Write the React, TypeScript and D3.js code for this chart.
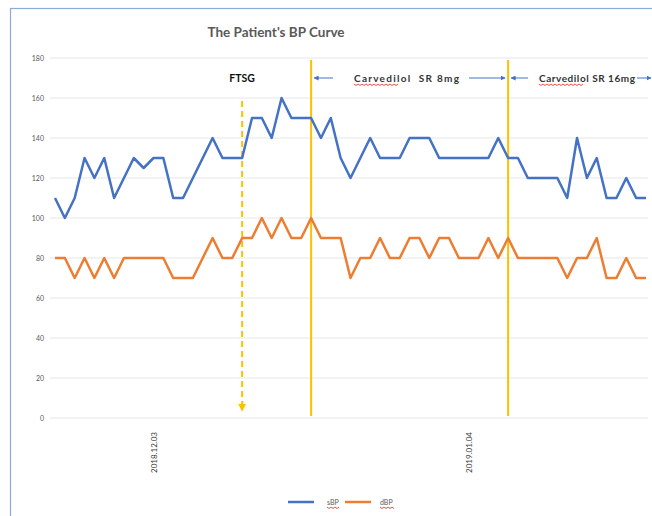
import * as d3 from "d3";
import * as React from "react";

// blood pressure readings, one per visit
const sBP = [
  110, 100, 110, 130, 120, 130, 110, 120, 130, 125, 130, 130, 110, 110, 120,
  130, 140, 130, 130, 130, 150, 150, 140, 160, 150, 150, 150, 140, 150, 130,
  120, 130, 140, 130, 130, 130, 140, 140, 140, 130, 130, 130, 130, 130, 130,
  140, 130, 130, 120, 120, 120, 120, 110, 140, 120, 130, 110, 110, 120, 110,
  110,
];
const dBP = [
  80, 80, 70, 80, 70, 80, 70, 80, 80, 80, 80, 80, 70, 70, 70, 80, 90, 80, 80,
  90, 90, 100, 90, 100, 90, 90, 100, 90, 90, 90, 70, 80, 80, 90, 80, 80, 90,
  90, 80, 90, 90, 80, 80, 80, 90, 80, 90, 80, 80, 80, 80, 80, 70, 80, 80, 90,
  70, 70, 80, 70, 70,
];
const xLabels = [
  { index: 10, text: "2018.12.03" },
  { index: 42, text: "2019.01.04" },
];
const yTicks = [0, 20, 40, 60, 80, 100, 120, 140, 160, 180];
const ftsgIndex = 19;
const drugStarts = [26, 46];

const BLUE = "#4472C4";
const ORANGE = "#ED7D31";
const GOLD = "#FFC000";
const FONT = "Lato, 'Open Sans', sans-serif";

export default function App() {
  const W = 652,
    H = 516;
  const x = d3
    .scaleLinear()
    .domain([0, sBP.length - 1])
    .range([55, 646]);
  const y = d3.scaleLinear().domain([0, 180]).range([418, 58]);

  const line = d3
    .line<number>()
    .x((d, i) => x(i))
    .y((d) => y(d));

  const arrowY = 78;
  // spell-check style red wavy underline
  const squiggle = (x0: number, x1: number, yy: number) => {
    let p = `M${x0},${yy}`;
    for (let xx = x0 + 2, k = 0; xx <= x1; xx += 2, k++) {
      p += ` L${xx},${yy + (k % 2 ? 0 : 1.5)}`;
    }
    return p;
  };

  const x1 = x(drugStarts[0]),
    x2 = x(drugStarts[1]);

  return (
    <svg
      width={W}
      height={H}
      style={{ position: "absolute", left: 0, top: 0, background: "#fff" }}
      fontFamily={FONT}
    >
      <defs>
        <marker
          id="ah"
          viewBox="0 0 10 10"
          refX="9"
          refY="5"
          markerWidth="5"
          markerHeight="5"
          orient="auto-start-reverse"
        >
          <path d="M0,0 L10,5 L0,10 z" fill={BLUE} />
        </marker>
        <marker
          id="ahGold"
          viewBox="0 0 10 10"
          refX="9"
          refY="5"
          markerWidth="4"
          markerHeight="4"
          orient="auto"
        >
          <path d="M0,0 L10,5 L0,10 z" fill={GOLD} />
        </marker>
      </defs>
      <rect
        x={10.5}
        y={8.5}
        width={W}
        height={H}
        fill="none"
        stroke="#8EA9DB"
        strokeWidth={1.2}
      />
      <text
        x={276}
        y={37}
        textAnchor="middle"
        fontSize={13.5}
        fontWeight="bold"
        fill="#595959"
      >
        The Patient's BP Curve
      </text>

      {/* grid + y axis */}
      {yTicks.map((t) => (
        <g key={t}>
          <line
            x1={50}
            x2={648}
            y1={y(t)}
            y2={y(t)}
            stroke="#e6e6e6"
            strokeWidth={1}
          />
          <text
            x={44}
            y={y(t) + 2.5}
            textAnchor="end"
            fontSize={7}
            fill="#595959"
          >
            {t}
          </text>
        </g>
      ))}

      {/* x labels */}
      {xLabels.map((l) => (
        <text
          key={l.text}
          transform={`translate(${x(l.index) + 3},432) rotate(-90)`}
          textAnchor="end"
          fontSize={8}
          fill="#404040"
        >
          {l.text}
        </text>
      ))}

      {/* annotation lines */}
      <line
        x1={x(ftsgIndex)}
        x2={x(ftsgIndex)}
        y1={101}
        y2={411}
        stroke={GOLD}
        strokeWidth={2}
        strokeDasharray="6,4"
        markerEnd="url(#ahGold)"
      />
      {drugStarts.map((i) => (
        <line
          key={i}
          x1={x(i)}
          x2={x(i)}
          y1={60}
          y2={416}
          stroke={GOLD}
          strokeWidth={2}
        />
      ))}

      <path
        d={line(sBP) || ""}
        fill="none"
        stroke={BLUE}
        strokeWidth={2.5}
        strokeLinejoin="round"
      />
      <path
        d={line(dBP) || ""}
        fill="none"
        stroke={ORANGE}
        strokeWidth={2.5}
        strokeLinejoin="round"
      />

      {/* annotation text */}
      <text
        x={x(ftsgIndex)}
        y={82}
        textAnchor="middle"
        fontSize={10.5}
        fontWeight="bold"
        fill="#111"
      >
        FTSG
      </text>

      <line
        x1={x1 + 22}
        x2={x1 + 3}
        y1={arrowY}
        y2={arrowY}
        stroke={BLUE}
        strokeWidth={1}
        markerEnd="url(#ah)"
      />
      <text
        x={354}
        y={arrowY + 3.5}
        fontSize={10}
        fontWeight="bold"
        fill="#333"
        textLength={105}
        lengthAdjust="spacing"
      >
        Carvedilol{"\u00a0\u00a0"}SR 8mg
      </text>
      <path d={squiggle(354, 398, arrowY + 6)} stroke="#e00" strokeWidth={0.7} fill="none" />
      <line
        x1={469}
        x2={x2 - 3}
        y1={arrowY}
        y2={arrowY}
        stroke={BLUE}
        strokeWidth={1}
        markerEnd="url(#ah)"
      />

      <line
        x1={x2 + 20}
        x2={x2 + 3}
        y1={arrowY}
        y2={arrowY}
        stroke={BLUE}
        strokeWidth={1}
        markerEnd="url(#ah)"
      />
      <text
        x={539}
        y={arrowY + 3.5}
        fontSize={10}
        fontWeight="bold"
        fill="#333"
        textLength={96}
        lengthAdjust="spacing"
      >
        Carvedilol{"\u00a0"}SR 16mg
      </text>
      <path d={squiggle(539, 583, arrowY + 6)} stroke="#e00" strokeWidth={0.7} fill="none" />
      <line
        x1={637}
        x2={651}
        y1={arrowY}
        y2={arrowY}
        stroke={BLUE}
        strokeWidth={1}
        markerEnd="url(#ah)"
      />

      {/* legend */}
      <line x1={288} x2={314} y1={502} y2={502} stroke={BLUE} strokeWidth={2.5} />
      <text x={327} y={505} fontSize={7} fill="#595959">
        sBP
      </text>
      <path d={squiggle(327, 339, 507)} stroke="#e00" strokeWidth={0.7} fill="none" />
      <line x1={345} x2={371} y1={502} y2={502} stroke={ORANGE} strokeWidth={2.5} />
      <text x={380} y={505} fontSize={7} fill="#595959">
        dBP
      </text>
      <path d={squiggle(380, 395, 507)} stroke="#e00" strokeWidth={0.7} fill="none" />
    </svg>
  );
}
